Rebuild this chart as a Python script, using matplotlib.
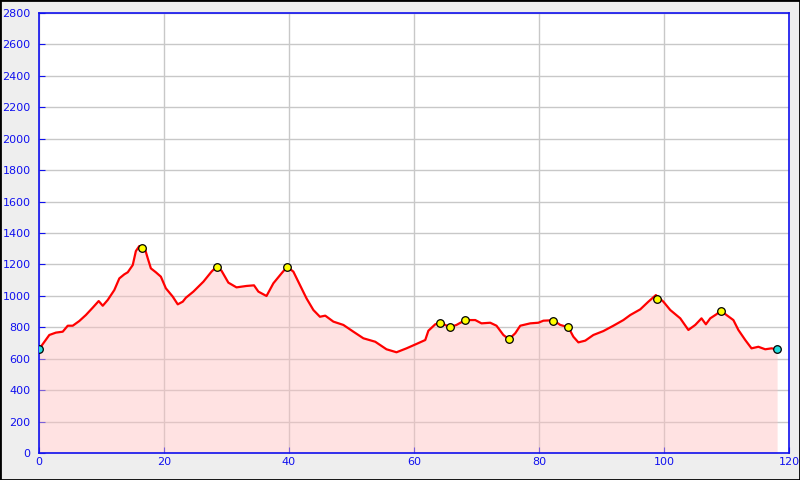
import numpy as np
import matplotlib.pyplot as plt
from matplotlib.patches import Rectangle

# profile data (km, m)
dist = [0, 1.65, 2.7, 3.8, 4.6, 5.4, 6.45, 7.5, 8.6, 9.55, 10.2, 11, 12.05, 12.85,
        13.65, 14.2, 15, 15.5, 16.05, 16.5, 16.85, 17.4, 17.9, 18.7, 19.5, 20.3,
        21.4, 22.2, 23, 23.5, 24.7, 26.3, 27.6, 28.4, 29.2, 30.3, 31.6, 33.2,
        34.4, 35.1, 36.4, 37.5, 38.8, 39.7, 40.7, 41.75, 42.8, 43.9, 44.95,
        45.8, 47.1, 48.7, 50.3, 51.9, 53.8, 55.6, 57.2, 58.8, 60.4, 61.8, 62.3,
        63.4, 64.2, 65, 65.7, 66.8, 68.2, 69.8, 70.8, 72.2, 73.2, 74.3, 75.2,
        76.2, 77, 78.6, 79.9, 80.7, 82.3, 83.4, 84.7, 85.5, 86.3, 87.4, 88.7,
        90.3, 91.9, 93.5, 94.6, 96.2, 97.5, 98.7, 99.9, 101, 102.6, 103.9, 105,
        106, 106.7, 107.4, 108.4, 109.1, 110, 111.1, 111.9, 113, 114, 115.1,
        116.2, 117.2, 118.1]
elev = [660, 751, 766, 772, 810, 810, 840, 878, 925, 967, 937, 974, 1037, 1111,
        1137, 1150, 1196, 1285, 1317, 1310, 1313, 1239, 1175, 1150, 1122, 1048,
        995, 946, 963, 988, 1027, 1090, 1154, 1185, 1160, 1084, 1054, 1063,
        1067, 1027, 999, 1080, 1143, 1185, 1154, 1069, 984, 910, 867,
        874, 836, 815, 772, 730, 708, 660, 641, 666, 694, 719, 778,
        819, 828, 815, 800, 815, 846, 846, 825, 829, 810, 751, 724,
        762, 810, 825, 829, 842, 845, 815, 800, 740, 704, 715, 751,
        776, 810, 846, 878, 914, 963, 1005, 963, 910, 857, 783, 815,
        857, 819, 857, 883, 906, 878, 846, 783, 719, 666, 676,
        660, 666, 660]

# waypoints
wp_x = [16.5, 28.4, 39.7, 64.2, 65.7, 68.2, 75.2, 82.3, 84.7, 98.9, 109.1]
wp_y = [1303, 1182, 1182, 825, 800, 846, 724, 842, 800, 978, 906]
end_x = [0, 118.1]
end_y = [660, 660]

BLUE = '#1010ee'

fig = plt.figure(figsize=(8, 4.8), dpi=100, facecolor='#eeeeee')
fig.patches.append(Rectangle((0, 0), 1, 1, transform=fig.transFigure,
                             fill=False, edgecolor='black', linewidth=2))
ax = fig.add_axes([39 / 800, 27 / 480, 750 / 800, 440 / 480])
ax.set_facecolor('white')

ax.fill_between(dist, elev, 0, color='#ffc0c0', alpha=0.45, linewidth=0, zorder=2)
ax.plot(dist, elev, color='red', linewidth=1.6, zorder=3)
ax.scatter(wp_x, wp_y, s=30, color='yellow', edgecolors='black', linewidths=0.9, zorder=4)
ax.scatter(end_x, end_y, s=30, color='#22dddd', edgecolors='black', linewidths=0.9, zorder=4)

ax.set_xlim(0, 120)
ax.set_ylim(0, 2800)
ax.set_xticks(np.arange(0, 121, 20))
ax.set_yticks(np.arange(0, 2801, 200))
ax.grid(True, color='#c8c8c8', linewidth=1, zorder=1)
ax.set_axisbelow(True)

for s in ax.spines.values():
    s.set_color(BLUE)
    s.set_linewidth(1.2)
ax.tick_params(direction='in', length=4, color=BLUE, labelcolor=BLUE, labelsize=8)
ax.tick_params(axis='y', pad=6)
ax.tick_params(axis='x', pad=3)

plt.savefig('out.png', dpi=100, facecolor=fig.get_facecolor())
